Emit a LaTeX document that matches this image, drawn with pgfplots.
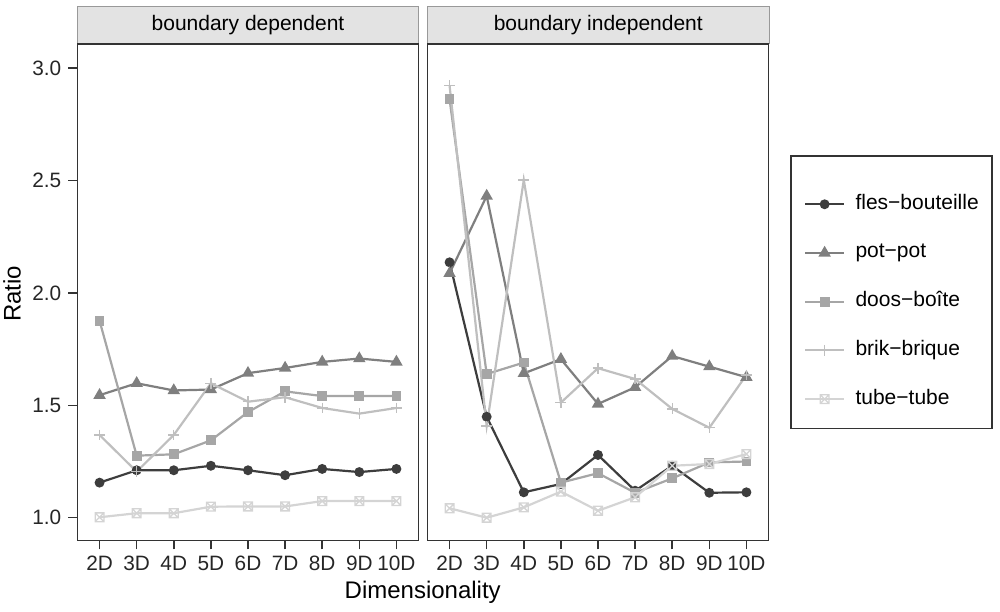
\documentclass[border=0pt]{standalone}
\usepackage{fontspec}
\setmainfont{Liberation Sans}
\usepackage{pgfplots}
\pgfplotsset{compat=1.18}
\definecolor{cfles}{HTML}{3D3D3D}
\definecolor{cpot}{HTML}{7F7F7F}
\definecolor{cdoos}{HTML}{A6A6A6}
\definecolor{cbrik}{HTML}{BFBFBF}
\definecolor{ctube}{HTML}{D4D4D4}
\definecolor{stripfill}{HTML}{E3E3E3}
\definecolor{framecol}{HTML}{333333}
\pgfdeclareplotmark{boxx}{%
  \pgfpathrectangle{\pgfpoint{-\pgfplotmarksize}{-\pgfplotmarksize}}{\pgfpoint{2\pgfplotmarksize}{2\pgfplotmarksize}}%
  \pgfpathmoveto{\pgfpoint{-\pgfplotmarksize}{-\pgfplotmarksize}}\pgfpathlineto{\pgfpoint{\pgfplotmarksize}{\pgfplotmarksize}}%
  \pgfpathmoveto{\pgfpoint{-\pgfplotmarksize}{\pgfplotmarksize}}\pgfpathlineto{\pgfpoint{\pgfplotmarksize}{-\pgfplotmarksize}}%
  \pgfusepathqstroke}
\pgfplotsset{
  panel/.style={
    scale only axis, width=170.7pt, height=248.15pt,
    xmin=-0.6, xmax=8.6, ymin=0.8995, ymax=3.107,
    xtick={0,...,8}, xticklabels={2D,3D,4D,5D,6D,7D,8D,9D,10D},
    tick align=outside, xtick pos=lower, ytick pos=left,
    major tick length=4.5pt,
    tick style={line width=0.75pt, color=framecol},
    axis line style={line width=0.7pt, color=framecol},
    ticklabel style={font=\fontsize{10.4}{12}\selectfont, text=black!85},
    /pgf/number format/assume math mode=true,
    yticklabel style={/pgf/number format/.cd, fixed, fixed zerofill, precision=1},
    clip=false,
  },
  sfles/.style={color=cfles, line width=1.1pt, mark=*, mark size=1.9pt, mark options={solid, fill=cfles}},
  spot/.style={color=cpot, line width=1.1pt, mark=triangle*, mark size=2.5pt, mark options={solid, fill=cpot}},
  sdoos/.style={color=cdoos, line width=1.1pt, mark=square*, mark size=1.9pt, mark options={solid, fill=cdoos}},
  sbrik/.style={color=cbrik, line width=1.1pt, mark=+, mark size=2.7pt, mark options={solid, line width=0.7pt}},
  stube/.style={color=ctube, line width=1.1pt, mark=boxx, mark size=2.2pt, mark options={solid, line width=0.65pt}},
}
\begin{document}
\begin{tikzpicture}
\useasboundingbox (0,0) rectangle (500pt,305.5pt);
% strips
\draw[fill=stripfill, draw=black!40, line width=0.5pt] (38.65pt,283.5pt) rectangle (209.35pt,302.15pt);
\draw[fill=stripfill, draw=black!40, line width=0.5pt] (213.65pt,283.5pt) rectangle (384.65pt,302.15pt);
\node[font=\fontsize{10.5}{12}\selectfont, anchor=center] at (124pt,292.8pt) {boundary dependent};
\node[font=\fontsize{10.5}{12}\selectfont, anchor=center] at (299.15pt,292.8pt) {boundary independent};
% left panel
\begin{axis}[panel, at={(38.65pt,35.35pt)}, anchor=south west, ytick={1,1.5,2,2.5,3}]
\addplot[sfles] coordinates {(0,1.156)(1,1.211)(2,1.211)(3,1.231)(4,1.211)(5,1.189)(6,1.217)(7,1.203)(8,1.217)};
\addplot[spot] coordinates {(0,1.545)(1,1.598)(2,1.566)(3,1.570)(4,1.643)(5,1.666)(6,1.693)(7,1.708)(8,1.693)};
\addplot[sdoos] coordinates {(0,1.876)(1,1.276)(2,1.282)(3,1.344)(4,1.470)(5,1.562)(6,1.541)(7,1.541)(8,1.541)};
\addplot[sbrik] coordinates {(0,1.368)(1,1.205)(2,1.368)(3,1.598)(4,1.516)(5,1.536)(6,1.488)(7,1.463)(8,1.488)};
\addplot[stube] coordinates {(0,1.002)(1,1.020)(2,1.020)(3,1.049)(4,1.050)(5,1.050)(6,1.074)(7,1.074)(8,1.074)};
\end{axis}
% right panel
\begin{axis}[panel, at={(213.65pt,35.35pt)}, anchor=south west, ytick=\empty,
  legend cell align=left,
  legend style={draw=none, fill=none, at={(1.1044,0.6972)}, anchor=north west,
    inner sep=0pt, outer sep=0pt, row sep=14.35pt,
    nodes={inner sep=0pt, outer sep=0pt, text height=7.5pt, text depth=2.5pt, font=\fontsize{10.5}{12}\selectfont},
    /tikz/every odd column/.append style={column sep=5.3pt}},
  legend image code/.code={\draw[mark repeat=2, mark phase=2, #1] plot coordinates {(0pt,0pt) (9.6pt,0pt) (19.2pt,0pt)};}]
\addplot[sfles] coordinates {(0,2.136)(1,1.449)(2,1.113)(3,1.150)(4,1.279)(5,1.120)(6,1.231)(7,1.111)(8,1.113)};
\addlegendentry{fles−bouteille}
\addplot[spot] coordinates {(0,2.087)(1,2.431)(2,1.642)(3,1.705)(4,1.506)(5,1.580)(6,1.719)(7,1.672)(8,1.625)};
\addlegendentry{pot−pot}
\addplot[sdoos] coordinates {(0,2.861)(1,1.639)(2,1.690)(3,1.156)(4,1.198)(5,1.111)(6,1.175)(7,1.246)(8,1.250)};
\addlegendentry{doos−boîte}
\addplot[sbrik] coordinates {(0,2.922)(1,1.408)(2,2.502)(3,1.512)(4,1.665)(5,1.617)(6,1.484)(7,1.400)(8,1.635)};
\addlegendentry{brik−brique}
\addplot[stube] coordinates {(0,1.042)(1,1.000)(2,1.046)(3,1.116)(4,1.031)(5,1.091)(6,1.231)(7,1.239)(8,1.283)};
\addlegendentry{tube−tube}
\end{axis}
% legend frame
\draw[framecol, line width=0.6pt] (395.5pt,91.35pt) rectangle (496pt,227.5pt);
% axis titles
\node[font=\fontsize{12}{14}\selectfont, anchor=base] at (211.35pt,6.35pt) {Dimensionality};
\node[font=\fontsize{12}{14}\selectfont, anchor=base, rotate=90] at (10.35pt,158.6pt) {Ratio};
\end{tikzpicture}
\end{document}
